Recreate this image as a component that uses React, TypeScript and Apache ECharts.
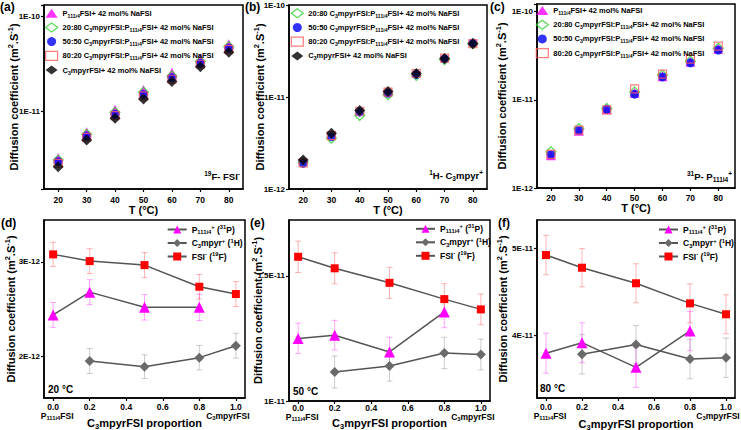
import React, { useEffect, useRef } from 'react';
import * as echarts from 'echarts';

const FONT = '"Liberation Sans", Arial, Helvetica, sans-serif';

// ---------- top row: diffusion vs temperature ----------
const temps = [20, 30, 40, 50, 60, 70, 80];
const tempTicks = [20, 30, 40, 50, 60, 70, 80];

// (a) 19F - FSI-
const aP111i4 = [3.15e-12, 5.94e-12, 1.03e-11, 1.67e-11, 2.55e-11, 3.62e-11, 5.09e-11];
const a2080 = [3.02e-12, 5.66e-12, 9.68e-12, 1.58e-11, 2.35e-11, 3.34e-11, 4.81e-11];
const a5050 = [2.9e-12, 5.43e-12, 9.22e-12, 1.5e-11, 2.25e-11, 3.2e-11, 4.63e-11];
const a8020 = [2.79e-12, 5.26e-12, 8.92e-12, 1.45e-11, 2.17e-11, 3.13e-11, 4.51e-11];
const aC3 = [2.56e-12, 4.93e-12, 8.37e-12, 1.34e-11, 2.05e-11, 2.95e-11, 4.19e-11];

// (b) 1H - C3mpyr+
const b2080 = [1.95e-12, 3.57e-12, 6.3e-12, 1.06e-11, 1.72e-11, 2.55e-11, 3.8e-11];
const b5050 = [1.9e-12, 3.71e-12, 6.84e-12, 1.1e-11, 1.76e-11, 2.6e-11, 3.87e-11];
const b8020 = [1.92e-12, 3.81e-12, 7.0e-12, 1.13e-11, 1.8e-11, 2.64e-11, 3.8e-11];
const bC3 = [2.07e-12, 4.04e-12, 7.14e-12, 1.15e-11, 1.8e-11, 2.62e-11, 3.78e-11];

// (c) 31P - P111i4+
const cP111i4 = [2.36e-12, 4.45e-12, 7.8e-12, 1.2e-11, 1.85e-11, 2.7e-11, 3.8e-11];
const c2080 = [2.57e-12, 4.73e-12, 7.99e-12, 1.23e-11, 1.91e-11, 2.75e-11, 3.85e-11];
const c5050 = [2.4e-12, 4.5e-12, 7.8e-12, 1.16e-11, 1.82e-11, 2.63e-11, 3.67e-11];
const c8020 = [2.41e-12, 4.53e-12, 7.7e-12, 1.33e-11, 1.96e-11, 2.9e-11, 4.07e-11];

// ---------- bottom row: diffusion vs proportion ----------
const propsP = [0, 0.2, 0.5, 0.8];
const propsC = [0.2, 0.5, 0.8, 1.0];
const propsF = [0, 0.2, 0.5, 0.8, 1.0];
const propTicks = [0, 0.2, 0.4, 0.6, 0.8, 1.0];

// (d) 20 °C
const dP = [2.44e-12, 2.68e-12, 2.52e-12, 2.52e-12];
const dPerr = [1.31e-13, 1.31e-13, 1.34e-13, 1.39e-13];
const dC = [1.955e-12, 1.895e-12, 1.99e-12, 2.116e-12];
const dCerr = [1.32e-13, 1.25e-13, 1.29e-13, 1.31e-13];
const dF = [3.078e-12, 3.007e-12, 2.965e-12, 2.737e-12, 2.66e-12];
const dFerr = [1.27e-13, 1.31e-13, 1.32e-13, 1.29e-13, 1.31e-13];

// (e) 50 °C
const eP = [1.25e-11, 1.263e-11, 1.196e-11, 1.356e-11];
const ePerr = [6.07e-13, 5.93e-13, 5.87e-13, 6.33e-13];
const eC = [1.116e-11, 1.14e-11, 1.192e-11, 1.186e-11];
const eCerr = [6.4e-13, 6.07e-13, 6.27e-13, 6.13e-13];
const eF = [1.576e-11, 1.53e-11, 1.472e-11, 1.407e-11, 1.366e-11];
const eFerr = [6.27e-13, 6.2e-13, 6.2e-13, 6.2e-13, 6.13e-13];

// (f) 80 °C
const fP = [3.8e-11, 3.92e-11, 3.638e-11, 4.054e-11];
const fPerr = [2.29e-12, 2.29e-12, 2.29e-12, 2.25e-12];
const fC = [3.787e-11, 3.9e-11, 3.733e-11, 3.748e-11];
const fCerr = [2.25e-12, 2.15e-12, 2.25e-12, 2.25e-12];
const fF = [4.923e-11, 4.778e-11, 4.6e-11, 4.37e-11, 4.245e-11];
const fFerr = [2.25e-12, 2.19e-12, 2.23e-12, 2.23e-12, 2.23e-12];

// ---------- text ----------
const LABELS: Record<string, string> = {};
const txtP = '{n|P}{s|111i4}{n|FSI+ 42 mol% NaFSI}';
const txtMix = (r: string) => `{n|${r} C}{s|3}{n|mpyrFSI:P}{s|111i4}{n|FSI+ 42 mol% NaFSI}`;
const txtC = '{n|C}{s|3}{n|mpyrFSI+ 42 mol% NaFSI}';
const txtLP = '{n|P}{s|111i4}{p|+}{n| (}{p|31}{n|P)}';
const txtLC = '{n|C}{s|3}{n|mpyr}{p|+}{n| (}{p|1}{n|H)}';
const txtLF = '{n|FSI}{p|-}{n| (}{p|19}{n|F)}';
const yName = '{n|Diffusion coefficient (m}{p|2}{n|.S}{p|-1}{n|)}';
const propName = '{n|C}{s|3}{n|mpyrFSI proportion}';

function rich(size: number, lh: number) {
  const sm = +(size * 0.68).toFixed(1);
  const pad = Math.round(size * 0.6);
  const base = { fontFamily: FONT, fontWeight: 'bold', color: '#000', fill: '#000' };
  return {
    n: { ...base, fontSize: size, lineHeight: lh },
    s: { ...base, fontSize: sm, lineHeight: lh, padding: [pad, 0, 0, 0] },
    p: { ...base, fontSize: sm, lineHeight: lh, padding: [0, 0, pad, 0] },
    pl: { ...base, fontSize: size, lineHeight: lh, padding: [0, 0, 0, 8] },
    fr: { ...base, fontSize: size, lineHeight: lh, padding: [0, 16, 0, 0] },
  };
}

const black = '#000';
const axisLine = { show: true, onZero: false, lineStyle: { color: black, width: 1.5 } };
const tickStyle = { color: black, width: 1.2 };

function logFmt(v: number) {
  const e = Math.log10(v);
  const r = Math.round(e);
  return Math.abs(e - r) < 1e-6 ? `1E${r}` : '';
}
function sci(v: number) {
  const e = Math.floor(Math.log10(v) + 1e-9);
  const m = Math.round((v / Math.pow(10, e)) * 100) / 100;
  return `${m}E${e}`;
}
function propLabel(v: number) {
  const s = v.toFixed(1);
  if (Math.abs(v) < 1e-6) return `{n|${s}}\n{pl|P}{s|111i4}{n|FSI}`;
  if (Math.abs(v - 1) < 1e-6) return `{n|${s}}\n{n|C}{s|3}{fr|mpyrFSI}`;
  return `{n|${s}}`;
}

function xTop(idx: number, max: number, margin: number, nameGap: number) {
  return {
    type: 'value', gridIndex: idx, min: 15, max,
    axisLine, splitLine: { show: false },
    axisTick: { show: true, length: 3, lineStyle: tickStyle, customValues: tempTicks },
    axisLabel: { customValues: tempTicks, margin, fontFamily: FONT, fontWeight: 'bold', fontSize: 8.5, lineHeight: 8, color: black },
    name: 'T (°C)', nameLocation: 'middle', nameGap, nameMoveOverlap: false,
    nameTextStyle: { fontFamily: FONT, fontWeight: 'bold', fontSize: 11, lineHeight: 10, color: black },
  };
}
function yLog(idx: number, min: number, max: number, nameGap: number) {
  return {
    type: 'log', logBase: 10, gridIndex: idx, min, max,
    axisLine, splitLine: { show: false },
    axisTick: { show: true, length: 3, lineStyle: tickStyle },
    axisLabel: { formatter: logFmt, margin: 4, fontFamily: FONT, fontWeight: 'bold', fontSize: 8, color: black },
    name: yName, nameLocation: 'middle', nameGap, nameMoveOverlap: false,
    nameTextStyle: { rich: rich(11, 13) },
  };
}
function xProp(idx: number, margin: number, nameGap: number) {
  return {
    type: 'value', gridIndex: idx, min: -0.05, max: 1.05,
    axisLine, splitLine: { show: false },
    axisTick: { show: true, length: 3, lineStyle: tickStyle, customValues: propTicks },
    axisLabel: { customValues: propTicks, margin, formatter: propLabel, rich: rich(8.5, 9) },
    name: propName, nameLocation: 'middle', nameGap, nameMoveOverlap: false,
    nameTextStyle: { rich: rich(11, 11) },
  };
}
function yLin(idx: number, min: number, max: number, ticks: number[], nameGap: number) {
  return {
    type: 'value', gridIndex: idx, min, max,
    axisLine, splitLine: { show: false },
    axisTick: { show: true, length: 3, lineStyle: tickStyle, customValues: ticks },
    axisLabel: { customValues: ticks, formatter: sci, margin: 4, fontFamily: FONT, fontWeight: 'bold', fontSize: 8, color: black },
    name: yName, nameLocation: 'middle', nameGap, nameMoveOverlap: false,
    nameTextStyle: { rich: rich(11, 13) },
  };
}

const C_MAG = '#ff00ff';
const C_GRN = '#2ad12a';
const C_BLU = '#0000ff';
const C_RED = '#ff5c5c';
const C_BLK = '#000000';

type Sty = { symbol: string; size: number; color: string; hollow?: boolean };
const STY: Record<string, Sty> = {
  P: { symbol: 'triangle', size: 10, color: C_MAG },
  m2080: { symbol: 'diamond', size: 10, color: C_GRN, hollow: true },
  m5050: { symbol: 'circle', size: 9, color: C_BLU },
  m8020: { symbol: 'rect', size: 8, color: C_RED, hollow: true },
  C: { symbol: 'diamond', size: 11, color: C_BLK },
};
function itemStyleOf(s: Sty) {
  return s.hollow
    ? { color: 'rgba(255,255,255,0)', borderColor: s.color, borderWidth: 1.2 }
    : { color: s.color };
}
function sc(name: string, idx: number, ys: number[], key: string, label: string) {
  const s = STY[key];
  LABELS[name] = label;
  return {
    type: 'scatter', name, xAxisIndex: idx, yAxisIndex: idx,
    data: temps.map((t, i) => [t, ys[i]]),
    symbol: s.symbol, symbolSize: s.size, itemStyle: itemStyleOf(s),
    emphasis: { disabled: true }, z: 3,
  };
}
function legItem(name: string, key: string) {
  const s = STY[key];
  return { name, icon: s.symbol, itemStyle: itemStyleOf(s) };
}

function ln(name: string, idx: number, xs: number[], ys: number[], symbol: string, size: number, color: string, label: string) {
  LABELS[name] = label;
  return {
    type: 'line', name, xAxisIndex: idx, yAxisIndex: idx,
    data: xs.map((x, i) => [x, ys[i]]),
    symbol, symbolSize: size, showSymbol: true,
    itemStyle: { color }, lineStyle: { color: '#555555', width: 1.5 },
    emphasis: { disabled: true }, z: 3,
  };
}
function err(name: string, idx: number, xs: number[], ys: number[], es: number[], color: string) {
  return {
    type: 'custom', name, xAxisIndex: idx, yAxisIndex: idx, z: 1, silent: true, clip: false,
    data: xs.map((x, i) => [x, ys[i], es[i]]),
    renderItem: (_p: any, api: any) => {
      const x = api.value(0), y = api.value(1), e = api.value(2);
      const t = api.coord([x, y + e]);
      const b = api.coord([x, y - e]);
      const w = 3;
      const st = { stroke: color, lineWidth: 1 };
      return {
        type: 'group',
        children: [
          { type: 'line', shape: { x1: t[0], y1: t[1], x2: b[0], y2: b[1] }, style: st },
          { type: 'line', shape: { x1: t[0] - w, y1: t[1], x2: t[0] + w, y2: t[1] }, style: st },
          { type: 'line', shape: { x1: b[0] - w, y1: b[1], x2: b[0] + w, y2: b[1] }, style: st },
        ],
      };
    },
  };
}

function gtext(x: number, y: number, text: string, size: number, align = 'left', r?: any) {
  return {
    type: 'text', x, y, silent: true, z: 10,
    style: { text, fontFamily: FONT, fontWeight: 'bold', fontSize: size, fill: black, align, verticalAlign: 'middle', rich: r },
  };
}

function buildOption() {
  const grids = [
    { left: 44, top: 5, width: 199, height: 184 },
    { left: 289, top: 5, width: 198, height: 184 },
    { left: 537, top: 4, width: 198, height: 184 },
    { left: 44, top: 220, width: 201, height: 178 },
    { left: 289, top: 220, width: 201, height: 181 },
    { left: 537, top: 220, width: 198, height: 178 },
  ].map((g) => ({ ...g, show: true, borderColor: black, borderWidth: 1.5, backgroundColor: 'transparent', containLabel: false, outerBoundsMode: 'none' }));

  const series: any[] = [
    sc('a-P', 0, aP111i4, 'P', txtP),
    sc('a-2080', 0, a2080, 'm2080', txtMix('20:80')),
    sc('a-5050', 0, a5050, 'm5050', txtMix('50:50')),
    sc('a-8020', 0, a8020, 'm8020', txtMix('80:20')),
    sc('a-C', 0, aC3, 'C', txtC),
    sc('b-2080', 1, b2080, 'm2080', txtMix('20:80')),
    sc('b-5050', 1, b5050, 'm5050', txtMix('50:50')),
    sc('b-8020', 1, b8020, 'm8020', txtMix('80:20')),
    sc('b-C', 1, bC3, 'C', txtC),
    sc('c-P', 2, cP111i4, 'P', txtP),
    sc('c-2080', 2, c2080, 'm2080', txtMix('20:80')),
    sc('c-5050', 2, c5050, 'm5050', txtMix('50:50')),
    sc('c-8020', 2, c8020, 'm8020', txtMix('80:20')),
  ];

  const EB_MAG = 'rgba(255,0,255,0.35)';
  const EB_GRY = 'rgba(110,110,110,0.35)';
  const EB_RED = 'rgba(255,40,40,0.35)';
  const bottom: [number, number[], number[], number[], number[], number[], number[]][] = [
    [3, dP, dPerr, dC, dCerr, dF, dFerr],
    [4, eP, ePerr, eC, eCerr, eF, eFerr],
    [5, fP, fPerr, fC, fCerr, fF, fFerr],
  ];
  const tags = ['d', 'e', 'f'];
  bottom.forEach(([idx, P, Pe, C, Ce, F, Fe], k) => {
    const t = tags[k];
    series.push(err(`${t}-Pe`, idx, propsP, P, Pe, EB_MAG));
    series.push(err(`${t}-Ce`, idx, propsC, C, Ce, EB_GRY));
    series.push(err(`${t}-Fe`, idx, propsF, F, Fe, EB_RED));
    series.push(ln(`${t}-P`, idx, propsP, P, 'triangle', 11, C_MAG, txtLP));
    series.push(ln(`${t}-C`, idx, propsC, C, 'diamond', 10, '#6a6a6a', txtLC));
    series.push(ln(`${t}-F`, idx, propsF, F, 'rect', 8, '#ff0000', txtLF));
  });

  const fmt = (n: string) => LABELS[n] || n;
  const topLegend = (left: number, top: number, items: any[]) => ({
    orient: 'vertical', left, top, padding: 0, itemWidth: 12, itemHeight: 9, itemGap: 4.1,
    selectedMode: false, data: items, formatter: fmt, textStyle: { rich: rich(7.5, 9) },
  });
  const botLegend = (left: number, top: number, t: string) => ({
    orient: 'vertical', left, top, padding: 0, itemWidth: 19, itemHeight: 10, itemGap: 2.5,
    selectedMode: false, data: [`${t}-P`, `${t}-C`, `${t}-F`], formatter: fmt, textStyle: { rich: rich(8.5, 10) },
  });

  const legend = [
    topLegend(45, 8.2, [legItem('a-P', 'P'), legItem('a-2080', 'm2080'), legItem('a-5050', 'm5050'), legItem('a-8020', 'm8020'), legItem('a-C', 'C')]),
    topLegend(290.7, 8.2, [legItem('b-2080', 'm2080'), legItem('b-5050', 'm5050'), legItem('b-8020', 'm8020'), legItem('b-C', 'C')]),
    topLegend(535.7, 5.5, [legItem('c-P', 'P'), legItem('c-2080', 'm2080'), legItem('c-5050', 'm5050'), legItem('c-8020', 'm8020')]),
    botLegend(166.7, 224, 'd'),
    botLegend(415, 223.3, 'e'),
    botLegend(658, 224, 'f'),
  ];

  const r95 = rich(9.5, 11);
  const graphic = [
    gtext(0, 7, '(a)', 12),
    gtext(245, 7, '(b)', 12),
    gtext(490, 7, '(c)', 12),
    gtext(1, 223, '(d)', 12),
    gtext(250, 223, '(e)', 12),
    gtext(498, 223, '(f)', 12),
    gtext(240, 176.7, '{p|19}{n|F- FSI}{p|-}', 9.5, 'right', r95),
    gtext(483, 175, '{p|1}{n|H- C}{s|3}{n|mpyr}{p|+}', 9.5, 'right', r95),
    gtext(732, 176, '{p|31}{n|P- P}{s|111i4}{p|+}', 9.5, 'right', r95),
    gtext(48, 389, '20 °C', 10),
    gtext(293, 391, '50 °C', 10),
    gtext(540, 388, '80 °C', 10),
  ];

  return {
    animation: false,
    backgroundColor: '#ffffff',
    textStyle: { fontFamily: FONT },
    grid: grids,
    xAxis: [
      xTop(0, 85, 6.5, 16),
      xTop(1, 85, 6.5, 15.5),
      xTop(2, 86, 6, 15),
      xProp(3, 4, 19),
      xProp(4, 2, 16),
      xProp(5, 4, 20),
    ],
    yAxis: [
      yLog(0, 1.49e-12, 1.33e-10, 23.5),
      yLog(1, 1e-12, 1e-10, 22.5),
      yLog(2, 1e-12, 1.223e-10, 28.5),
      yLin(3, 1.565e-12, 3.44e-12, [2e-12, 3e-12], 26.5),
      yLin(4, 1e-11, 1.723e-11, [1e-11, 1.5e-11], 24.5),
      yLin(5, 3.287e-11, 5.324e-11, [4e-11, 5e-11], 27.5),
    ],
    legend,
    series,
    graphic,
  };
}

export default function App() {
  const ref = useRef<HTMLDivElement>(null);
  useEffect(() => {
    const chart = echarts.init(ref.current as HTMLDivElement, undefined, { renderer: 'svg' });
    chart.setOption(buildOption() as any);
    return () => chart.dispose();
  }, []);
  return (
    <div
      ref={ref}
      style={{ position: 'fixed', left: 0, top: 0, width: 741, height: 430, background: '#fff' }}
    />
  );
}
